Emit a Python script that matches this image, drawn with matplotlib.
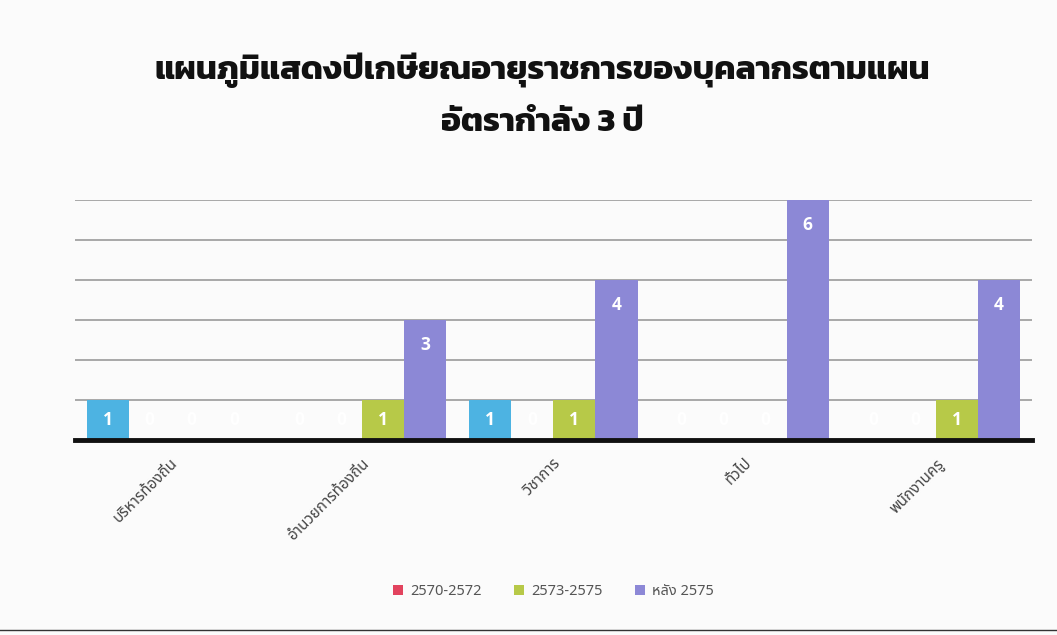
import matplotlib
matplotlib.use('Agg')
import matplotlib.pyplot as plt
import numpy as np

# data
categories = ['บริหารท้องถิ่น', 'อำนวยการท้องถิ่น', 'วิชาการ', 'ทั่วไป', 'พนักงานครู']
series_names = ['2567-2569', '2570-2572', '2573-2575', 'หลัง 2575']
v_first = [1, 0, 1, 0, 0]
v_2570 = [0, 0, 0, 0, 0]
v_2573 = [0, 1, 1, 0, 1]
v_after = [0, 3, 4, 6, 4]
colors = ['#4db3e2', '#e2435e', '#b7c948', '#8c88d6']

thai = ['Noto Sans Thai', 'DejaVu Sans']

fig = plt.figure(figsize=(10.57, 6.35), dpi=100, facecolor='#fbfbfb')
ax = fig.add_axes([0.071, 0.307, 0.905, 0.378])
ax.set_facecolor('none')

x = np.arange(len(categories))
w = 0.22
all_vals = [v_first, v_2570, v_2573, v_after]
for i, vals in enumerate(all_vals):
    pos = x + (i - 1.5) * w
    lab = series_names[i] if i > 0 else '_nolegend_'
    bars = ax.bar(pos, vals, width=w, color=colors[i], label=lab, zorder=2)
    for b, v in zip(bars, vals):
        y = v - 0.5 if v == 1 else v - 0.62
        if v == 0:
            y = 0.5
        ax.text(b.get_x() + b.get_width() / 2, y, str(v), ha='center', va='center',
                color='white', fontsize=12.5, fontweight='bold', family='Open Sans', zorder=3)

ax.set_xlim(-0.5, len(categories) - 0.5)
ax.set_ylim(0, 6)
ax.set_yticks(range(1, 7))
ax.yaxis.grid(True, color='#9a9a9a', lw=1.2, zorder=0)
ax.tick_params(left=False, labelleft=False, bottom=False)
for s in ax.spines.values():
    s.set_visible(False)
ax.axhline(0, color='#111111', lw=3.5, zorder=4, clip_on=False)

ax.set_xticks(x)
ax.set_xticklabels(categories, rotation=45, ha='right', rotation_mode='anchor',
                   family=thai, fontsize=11, color='#444444')
ax.tick_params(axis='x', pad=8)

leg = ax.legend(loc='center', bbox_to_anchor=(0.5, -0.63), ncol=3, frameon=False,
                prop={'family': thai, 'size': 10.5}, handlelength=0.7, handleheight=0.7,
                columnspacing=2.2, handletextpad=0.5, labelcolor='#555555')

title_font = ['Kanit', 'DejaVu Sans']
fig.text(0.513, 0.89, 'แผนภูมิแสดงปีเกษียณอายุราชการของบุคลากรตามแผน', ha='center', va='center',
         fontsize=24, fontweight='bold', family=title_font, color='#111111')
fig.text(0.513, 0.805, 'อัตรากำลัง 3 ปี', ha='center', va='center',
         fontsize=24, fontweight='bold', family=title_font, color='#111111')

fig.add_artist(plt.Line2D([0.0, 1.0], [0.008, 0.008], color='#333333', lw=1))

fig.savefig('out.png', dpi=100, facecolor=fig.get_facecolor())
